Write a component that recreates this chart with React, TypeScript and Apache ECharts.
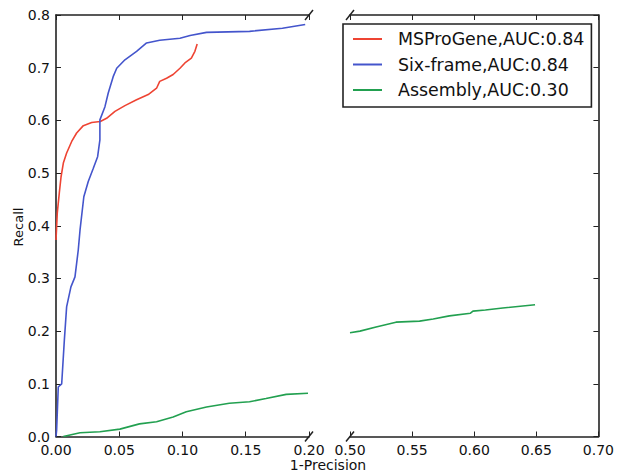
import React, { useEffect, useRef } from "react";
import * as echarts from "echarts";

const yTicks = [0, 0.8, 0.1];
const leftXRange = [0, 0.2, 0.05];
const rightXRange = [0.5, 0.7, 0.05];

const seriesNames = ["MSProGene,AUC:0.84", "Six-frame,AUC:0.84", "Assembly,AUC:0.30"];

const redX = [0, 0.001, 0.0026, 0.004, 0.0058, 0.0084, 0.0124, 0.0163, 0.0216, 0.0282, 0.035, 0.04, 0.0466, 0.0545, 0.0637, 0.0729, 0.0795, 0.082, 0.0874, 0.0926, 0.098, 0.1019, 0.107, 0.1098, 0.1116];
const redY = [0.373, 0.424, 0.462, 0.493, 0.519, 0.538, 0.56, 0.576, 0.59, 0.596, 0.598, 0.604, 0.617, 0.628, 0.639, 0.649, 0.661, 0.674, 0.68, 0.687, 0.699, 0.709, 0.718, 0.731, 0.745];

const blueX = [0, 0.0005, 0.0018, 0.0045, 0.0066, 0.0084, 0.0118, 0.015, 0.0176, 0.019, 0.022, 0.0255, 0.0295, 0.0329, 0.0347, 0.0347, 0.0387, 0.0413, 0.0452, 0.048, 0.0545, 0.0637, 0.0716, 0.082, 0.098, 0.106, 0.119, 0.153, 0.179, 0.197];
const blueY = [0, 0.012, 0.094, 0.1, 0.183, 0.246, 0.284, 0.303, 0.354, 0.392, 0.455, 0.484, 0.509, 0.531, 0.563, 0.601, 0.626, 0.652, 0.683, 0.699, 0.715, 0.731, 0.747, 0.752, 0.756, 0.761, 0.767, 0.769, 0.775, 0.782];

const greenLeftX = [0.0058, 0.019, 0.0347, 0.0505, 0.066, 0.0795, 0.0926, 0.103, 0.119, 0.137, 0.153, 0.166, 0.182, 0.1992];
const greenLeftY = [0, 0.007, 0.009, 0.014, 0.024, 0.028, 0.037, 0.047, 0.056, 0.063, 0.066, 0.072, 0.08, 0.082];

const greenRightX = [0.5, 0.508, 0.521, 0.537, 0.556, 0.567, 0.58, 0.597, 0.599, 0.609, 0.623, 0.649];
const greenRightY = [0.197, 0.2, 0.208, 0.217, 0.219, 0.223, 0.229, 0.234, 0.238, 0.24, 0.244, 0.25];

const zip = (xs: number[], ys: number[]) => xs.map((x, i) => [x, ys[i]]);

const FONT = "DejaVu Sans";
const AXIS_COLOR = "#222";
const TEXT_COLOR = "#111";

export default function App() {
  const ref = useRef<HTMLDivElement>(null);
  useEffect(() => {
    if (!ref.current) return;
    const chart = echarts.init(ref.current, undefined, { renderer: "svg" });

    const axisLine = { show: true, lineStyle: { color: AXIS_COLOR, width: 1.6 } };
    const axisTick = { show: true, inside: true, length: 5, lineStyle: { color: AXIS_COLOR, width: 1 } };
    const axisLabel = {
      show: true,
      color: TEXT_COLOR,
      fontSize: 14,
      fontFamily: FONT,
      margin: 6,
    };

    const xAxisOf = (grid: number, r: number[], pos: "bottom" | "top") => ({
      type: "value",
      gridIndex: grid,
      position: pos,
      min: r[0],
      max: r[1],
      interval: r[2],
      axisLine,
      axisTick,
      splitLine: { show: false },
      axisLabel: pos === "bottom" ? { ...axisLabel, formatter: (v: number) => v.toFixed(2) } : { show: false },
    });

    const breakMark = (cx: number, cy: number) => ({
      type: "line",
      shape: { x1: cx - 4, y1: cy + 5, x2: cx + 4, y2: cy - 5 },
      style: { stroke: AXIS_COLOR, lineWidth: 1.5 },
      z: 100,
    });

    const lineStyle = (c: string) => ({ color: c, width: 1.6 });
    const RED = "#ee4433";
    const BLUE = "#4455cc";
    const GREEN = "#22a050";

    chart.setOption({
      animation: false,
      backgroundColor: "#fff",
      grid: [
        { left: 56, top: 15, width: 253, height: 421.5 },
        { left: 350, top: 15, width: 250, height: 421.5 },
      ],
      xAxis: [
        xAxisOf(0, leftXRange, "bottom"),
        xAxisOf(0, leftXRange, "top"),
        xAxisOf(1, rightXRange, "bottom"),
        xAxisOf(1, rightXRange, "top"),
      ],
      yAxis: [
        {
          type: "value",
          gridIndex: 0,
          position: "left",
          min: yTicks[0],
          max: yTicks[1],
          interval: yTicks[2],
          axisLine,
          axisTick,
          splitLine: { show: false },
          axisLabel: { ...axisLabel, formatter: (v: number) => v.toFixed(1) },
        },
        {
          type: "value",
          gridIndex: 1,
          position: "right",
          min: yTicks[0],
          max: yTicks[1],
          interval: yTicks[2],
          axisLine,
          axisTick,
          splitLine: { show: false },
          axisLabel: { show: false },
        },
      ],
      legend: {
        data: seriesNames,
        orient: "vertical",
        left: 343,
        top: 24,
        padding: [6.5, 7, 8.5, 10],
        borderColor: "#222",
        borderWidth: 1.6,
        backgroundColor: "#fff",
        itemWidth: 29,
        itemHeight: 2,
        itemGap: 8.5,
        icon: "rect",
        textStyle: {
          fontSize: 17.4,
          fontFamily: FONT,
          color: TEXT_COLOR,
          lineHeight: 17,
          padding: [0, 0, 0, 11],
        },
      },
      graphic: [
        {
          type: "text",
          x: 18,
          y: 227,
          rotation: Math.PI / 2,
          style: { text: "Recall", font: `13px "${FONT}"`, fill: TEXT_COLOR, align: "center", verticalAlign: "middle" },
        },
        {
          type: "text",
          x: 328,
          y: 465,
          style: { text: "1-Precision", font: `14px "${FONT}"`, fill: TEXT_COLOR, align: "center", verticalAlign: "middle" },
        },
        breakMark(309, 15),
        breakMark(350, 15),
        breakMark(309, 436.5),
        breakMark(350, 436.5),
      ],
      series: [
        {
          name: seriesNames[0],
          type: "line",
          xAxisIndex: 0,
          yAxisIndex: 0,
          data: zip(redX, redY),
          symbol: "none",
          lineStyle: lineStyle(RED),
          itemStyle: { color: RED },
        },
        {
          name: seriesNames[1],
          type: "line",
          xAxisIndex: 0,
          yAxisIndex: 0,
          data: zip(blueX, blueY),
          symbol: "none",
          lineStyle: lineStyle(BLUE),
          itemStyle: { color: BLUE },
        },
        {
          name: seriesNames[2],
          type: "line",
          xAxisIndex: 0,
          yAxisIndex: 0,
          data: zip(greenLeftX, greenLeftY),
          symbol: "none",
          lineStyle: lineStyle(GREEN),
          itemStyle: { color: GREEN },
        },
        {
          name: seriesNames[2],
          type: "line",
          xAxisIndex: 2,
          yAxisIndex: 1,
          data: zip(greenRightX, greenRightY),
          symbol: "none",
          lineStyle: lineStyle(GREEN),
          itemStyle: { color: GREEN },
        },
      ],
    });
    return () => chart.dispose();
  }, []);
  return (
    <div
      ref={ref}
      style={{ position: "absolute", left: 0, top: 0, width: 617, height: 473, background: "#fff" }}
    />
  );
}
